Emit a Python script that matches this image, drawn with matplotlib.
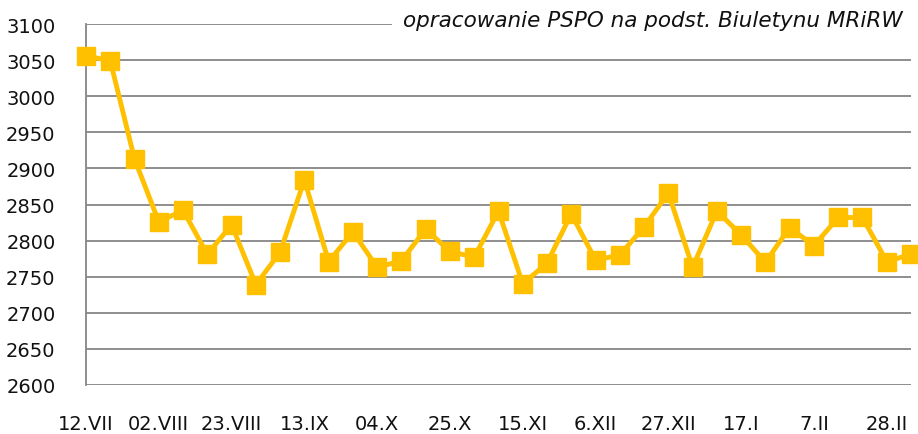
import matplotlib
matplotlib.use("Agg")
import matplotlib.pyplot as plt

values = [3056, 3049, 2913, 2826, 2842, 2781, 2822, 2739, 2784, 2884,
          2771, 2812, 2763, 2772, 2816, 2785, 2777, 2841, 2740, 2769,
          2837, 2773, 2780, 2819, 2866, 2763, 2841, 2808, 2770, 2818,
          2793, 2832, 2832, 2771, 2781]
tick_labels = ["12.VII", "02.VIII", "23.VIII", "13.IX", "04.X", "25.X",
               "15.XI", "6.XII", "27.XII", "17.I", "7.II", "28.II"]
y_ticks = list(range(2600, 3101, 50))
source_note = "opracowanie PSPO na podst. Biuletynu MRiRW"

fig = plt.figure(figsize=(9.18, 4.35), dpi=100)
ax = fig.add_axes([86/918, 49/435, (911-86)/918, (386-25)/435])

x = list(range(len(values)))
ax.plot(x, values, color="#FFC000", lw=3.5, marker="s", markersize=13,
        markeredgecolor="#FFC000", clip_on=False, zorder=3)

ax.set_xlim(0, len(values) - 1)
ax.set_ylim(2600, 3100)
ax.set_yticks(y_ticks)
ax.set_xticks(x[::3])
ax.set_xticklabels(tick_labels)
ax.yaxis.grid(True, color="#868686", lw=1.3)
ax.set_axisbelow(True)
for s in ["top", "right", "bottom"]:
    ax.spines[s].set_visible(False)
ax.spines["left"].set_color("#868686")
ax.spines["left"].set_linewidth(1.3)
ax.tick_params(axis="both", length=0, labelsize=14, colors="#111111")
ax.tick_params(axis="y", pad=22)
ax.tick_params(axis="x", pad=21)

ax.text(0.99, 1.01, source_note, transform=ax.transAxes, ha="right", va="center",
        fontsize=15.5, style="italic", color="#111111",
        bbox=dict(facecolor="white", edgecolor="none", pad=8), zorder=5)

fig.savefig("out.png", dpi=100)
